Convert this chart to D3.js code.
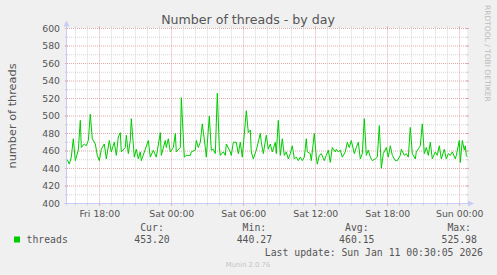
<!DOCTYPE html>
<html>
<head>
<meta charset="utf-8">
<script src="https://cdn.jsdelivr.net/npm/d3@7"></script>
<style>
  body { margin: 0; background: #f0f0f0; }
  svg { display: block; }
</style>
</head>
<body>
<div id="chart"></div>
<script>
// samples, minutes relative to Sat 00:00
var sampleMinutes = [
  -520,-510,-500,-490,-480,-465,-455,-450,-435,-425,
  -415,-405,-395,-380,-370,-360,-350,-335,-325,-310,
  -300,-285,-275,-265,-255,-250,-230,-225,-215,-205,
  -200,-185,-175,-165,-155,-150,-130,-115,-105,-90,
  -75,-55,-50,-30,-25,-15,-5,10,20,25,
  45,50,65,75,95,100,120,125,135,145,
  155,170,175,190,200,210,220,230,240,245,
  260,270,275,295,300,310,325,335,345,355,
  375,385,395,400,410,425,
  445,450,460,475,485,495,505,520,525,535,
  545,555,565,575,585,595,605,615,625,635,
  645,655,665,675,680,695,700,715,725,730,
  740,750,765,775,785,795,805,820,825,835,
  845,855,870,880,890,900,915,925,935,945,
  955,965,975,985,995,1005,1020,1030,1040,1050,
  1060,1075,1085,1095,1105,1120,1130,1145,1150,1165,
  1175,1185,1195,1205,1220,1225,1240,1245,1255,1265,
  1275,1285,1295,1305,1320,1330,1340,1350,1365,1375,
  1385,1395,1405,1420,1425,1440,1445,1455,1465,1470,
  1475,1480
];
var threadValues = [
  450,445,453,474,449,461,495,464,468,466,
  472,502,474,468,455,449,462,468,451,472,
  459,470,455,476,481,459,464,478,457,472,
  497,453,462,451,459,449,462,472,453,461,
  453,481,455,472,464,474,459,464,480,459,
  464,521,453,455,455,459,461,472,464,470,
  491,464,453,500,461,462,457,526,464,455,
  459,455,468,459,455,470,470,457,470,453,
  506,481,484,459,451,461,
  480,470,457,478,462,468,459,470,457,495,
  455,474,455,459,451,457,466,451,453,449,
  453,449,453,474,459,457,449,480,453,445,
  455,457,449,455,461,447,464,459,462,459,
  461,453,459,470,464,472,457,464,470,451,
  457,497,455,461,453,449,451,453,489,440.3,
  457,464,453,466,455,449,449,455,462,455,
  457,453,487,457,451,459,464,466,491,457,
  464,455,470,451,459,455,466,451,462,451,
  457,455,459,451,455,472,447,472,461,466,
  455,453.2
];
var yTicks = [400, 420, 440, 460, 480, 500, 520, 540, 560, 580, 600];
var yMinor = [410, 430, 450, 470, 490, 510, 530, 550, 570, 590];
var seriesName = 'threads';
var legendHeads = ['Cur:', 'Min:', 'Avg:', 'Max:'];
var legendValues = ['453.20', '440.27', '460.15', '525.98'];
var lastUpdate = 'Last update: Sun Jan 11 00:30:05 2026';

var W = 497, H = 275;
var plotL = 67, plotR = 467, plotT = 28.5, plotB = 203.5;
var sat = new Date(2026, 0, 10, 0, 0, 0);
function at(min) { return new Date(sat.getTime() + min * 60000); }

var x = d3.scaleTime().domain([at(-521.5), at(1478.5)]).range([plotL, plotR]);
var y = d3.scaleLinear().domain([400, 600]).range([plotB, plotT]);

var svg = d3.select('#chart').append('svg')
  .attr('width', W)
  .attr('height', H);

svg.append('rect').attr('width', W).attr('height', H).attr('fill', '#f0f0f0');

// canvas
svg.append('rect')
  .attr('x', plotL).attr('y', plotT - 0.5)
  .attr('width', plotR - plotL).attr('height', plotB - plotT + 0.5)
  .attr('fill', '#ffffff');

var minorColor = '#d6d6d6', majorColor = '#e4a8a8';

// horizontal grid
function hline(v, color) {
  var yy = y(v);
  svg.append('line')
    .attr('x1', plotL - 2).attr('x2', plotR + 2)
    .attr('y1', yy).attr('y2', yy)
    .attr('stroke', color).attr('stroke-dasharray', '1,1');
  svg.append('line').attr('x1', plotL - 2).attr('x2', plotL + 1).attr('y1', yy).attr('y2', yy).attr('stroke', color);
  svg.append('line').attr('x1', plotR - 1).attr('x2', plotR + 2).attr('y1', yy).attr('y2', yy).attr('stroke', color);
}
yMinor.forEach(function(v) { hline(v, minorColor); });
yTicks.forEach(function(v) { if (v > 400) hline(v, majorColor); });

// vertical grid
var hours = x.ticks(d3.timeHour.every(1));
var majors = x.ticks(d3.timeHour.every(6));
function isMajor(d) { return d.getHours() % 6 === 0; }
hours.forEach(function(d) {
  var xx = Math.round(x(d)) + 0.5;
  var c = isMajor(d) ? majorColor : minorColor;
  svg.append('line')
    .attr('x1', xx).attr('x2', xx)
    .attr('y1', plotT - 2).attr('y2', plotB + 2)
    .attr('stroke', c).attr('stroke-dasharray', '1,1');
  svg.append('line').attr('x1', xx).attr('x2', xx).attr('y1', plotB - 1).attr('y2', plotB + 2).attr('stroke', c);
  svg.append('line').attr('x1', xx).attr('x2', xx).attr('y1', plotT - 2).attr('y2', plotT + 1).attr('stroke', c);
});

// data line
var data = sampleMinutes.map(function(m, i) { return { date: at(m), v: threadValues[i] }; });
svg.append('path')
  .datum(data)
  .attr('d', d3.line().x(function(d) { return x(d.date); }).y(function(d) { return y(d.v); }))
  .attr('fill', 'none')
  .attr('stroke', '#00cc00')
  .attr('stroke-width', 1);

// axes + arrows
var axisColor = '#c8ccf4';
svg.append('line').attr('x1', plotL - 0.5).attr('x2', plotL - 0.5).attr('y1', plotB + 2).attr('y2', plotT - 5)
  .attr('stroke', axisColor);
svg.append('line').attr('x1', plotL - 3).attr('x2', plotR + 4).attr('y1', plotB).attr('y2', plotB)
  .attr('stroke', axisColor);
svg.append('path').attr('d', 'M' + (plotL - 0.5) + ',' + (plotT - 8) + 'l-3,6h6z').attr('fill', axisColor);
svg.append('path').attr('d', 'M' + (plotR + 7) + ',' + plotB + 'l-6,-3v6z').attr('fill', axisColor);

var textColor = '#555';

// y tick labels
svg.selectAll('.ylab').data(yTicks).enter().append('text')
  .attr('x', plotL - 7)
  .attr('y', function(d) { return y(d) + 3.4; })
  .attr('text-anchor', 'end')
  .attr('font-family', 'DejaVu Sans')
  .attr('font-size', '9.3px')
  .attr('fill', textColor)
  .text(function(d) { return d; });

// x tick labels
var fmt = d3.timeFormat('%a %H:%M');
svg.selectAll('.xlab').data(majors).enter().append('text')
  .attr('x', function(d) { return x(d) + 0.5; })
  .attr('y', 216.5)
  .attr('text-anchor', 'middle')
  .attr('font-family', 'DejaVu Sans')
  .attr('font-size', '9.3px')
  .attr('fill', textColor)
  .text(fmt);

// title
svg.append('text')
  .attr('x', 248).attr('y', 23.5)
  .attr('text-anchor', 'middle')
  .attr('font-family', 'DejaVu Sans')
  .attr('font-size', '12.6px')
  .attr('fill', textColor)
  .text('Number of threads - by day');

// vertical label
svg.append('text')
  .attr('transform', 'translate(15.5,' + ((plotT + plotB) / 2) + ') rotate(-90)')
  .attr('text-anchor', 'middle')
  .attr('font-family', 'DejaVu Sans')
  .attr('font-size', '11.3px')
  .attr('fill', textColor)
  .text('number of threads');

// watermark
svg.append('text')
  .attr('transform', 'translate(484.5,5) rotate(90)')
  .attr('font-family', 'DejaVu Sans')
  .attr('font-size', '7.5px')
  .attr('fill', '#bbbbbb')
  .text('RRDTOOL / TOBI OETIKER');

// legend
var mono = 'DejaVu Sans Mono';
svg.append('rect').attr('x', 14).attr('y', 236.5).attr('width', 6).attr('height', 6).attr('fill', '#00cc00');
svg.append('text').attr('x', 26.5).attr('y', 243.3)
  .attr('font-family', mono).attr('font-size', '9.8px').attr('fill', textColor)
  .text(seriesName);

legendHeads.forEach(function(h, i) {
  var cx = 152 + i * 102.4;
  svg.append('text').attr('x', cx).attr('y', 230.7).attr('text-anchor', 'middle')
    .attr('font-family', mono).attr('font-size', '9.8px').attr('fill', textColor).text(h);
  svg.append('text').attr('x', cx).attr('y', 243.3).attr('text-anchor', 'middle')
    .attr('font-family', mono).attr('font-size', '9.8px').attr('fill', textColor).text(legendValues[i]);
});

svg.append('text').attr('x', 483).attr('y', 255.5).attr('text-anchor', 'end')
  .attr('font-family', mono).attr('font-size', '9.8px').attr('fill', textColor)
  .text(lastUpdate);

svg.append('text').attr('x', 248).attr('y', 266.5).attr('text-anchor', 'middle')
  .attr('font-family', 'DejaVu Sans').attr('font-size', '6.8px').attr('fill', '#c4c4c4')
  .text('Munin 2.0.76');
</script>
</body>
</html>
